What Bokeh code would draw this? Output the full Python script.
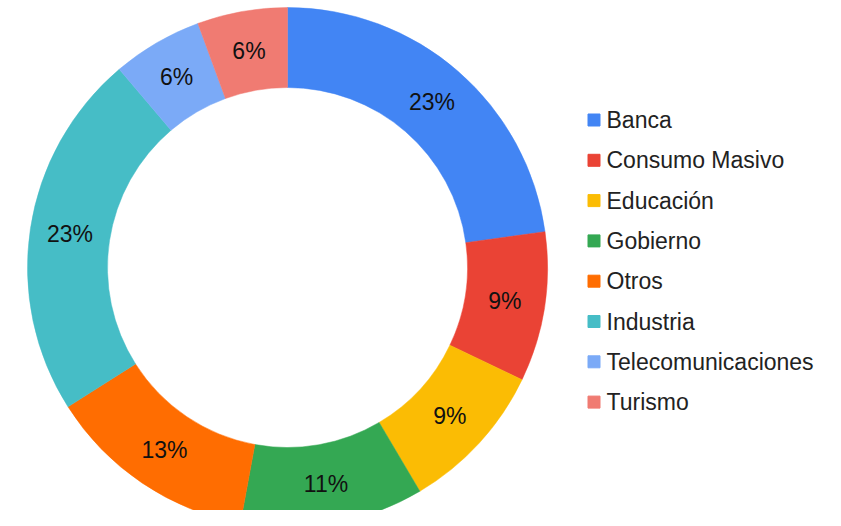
import math
from bokeh.plotting import figure
from bokeh.models import Range1d, ColumnDataSource
from bokeh.core.properties import value
from bokeh.embed import file_html
from bokeh.resources import INLINE

categories = ["Banca", "Consumo Masivo", "Educación", "Gobierno", "Otros",
              "Industria", "Telecomunicaciones", "Turismo"]
shares = [22.8, 9.3, 9.4, 11.4, 13.1, 22.8, 5.6, 5.6]
colors = ["#4285F4", "#EA4335", "#FBBC04", "#34A853", "#FF6D01",
          "#46BDC6", "#7BAAF7", "#F07B72"]

W, H = 825, 510
p = figure(width=W, height=H, output_backend="svg", toolbar_location=None,
           x_range=Range1d(0, W), y_range=Range1d(0, H), min_border=0)
p.axis.visible = False
p.grid.visible = False
p.outline_line_color = None
p.background_fill_color = "white"
p.border_fill_color = "white"

cx, cy = 287, H - 267
R_out, R_in = 260, 180

total = sum(shares)
starts, ends, lx, ly, labels = [], [], [], [], []
cum = 0.0
for v in shares:
    a0 = math.pi / 2 - 2 * math.pi * (cum + v) / total
    a1 = math.pi / 2 - 2 * math.pi * cum / total
    starts.append(a0)
    ends.append(a1)
    mid = (a0 + a1) / 2
    rm = (R_out + R_in) / 2
    lx.append(cx + rm * math.cos(mid))
    ly.append(cy + rm * math.sin(mid))
    labels.append(f"{round(v * 100 / total)}%")
    cum += v

src = ColumnDataSource(dict(start=starts, end=ends, color=colors,
                            lx=lx, ly=ly, label=labels, cat=categories))
p.annular_wedge(x=cx, y=cy, inner_radius=R_in, outer_radius=R_out,
                start_angle="start", end_angle="end", fill_color="color",
                line_color="color", line_width=0.5, source=src)
p.text(x="lx", y="ly", text="label", source=src, text_align="center",
       text_baseline="middle", text_font=value("Liberation Sans"),
       text_font_size="23px", text_color="#111111")

# legend
leg_x_marker = 593.5
leg_x_text = 606
leg_y0 = H - 119.5
leg_step = 40.3
ys = [leg_y0 - i * leg_step for i in range(len(categories))]
lsrc = ColumnDataSource(dict(y=ys, cat=categories, color=colors))
p.scatter(x=leg_x_marker, y="y", marker="square", size=12, fill_color="color",
          line_color="color", source=lsrc)
p.text(x=leg_x_text, y="y", text="cat", source=lsrc, text_align="left",
       text_baseline="middle", text_font=value("Liberation Sans"),
       text_font_size="23px", text_color="#222222")

open("out.html", "w").write(file_html(p, INLINE))
